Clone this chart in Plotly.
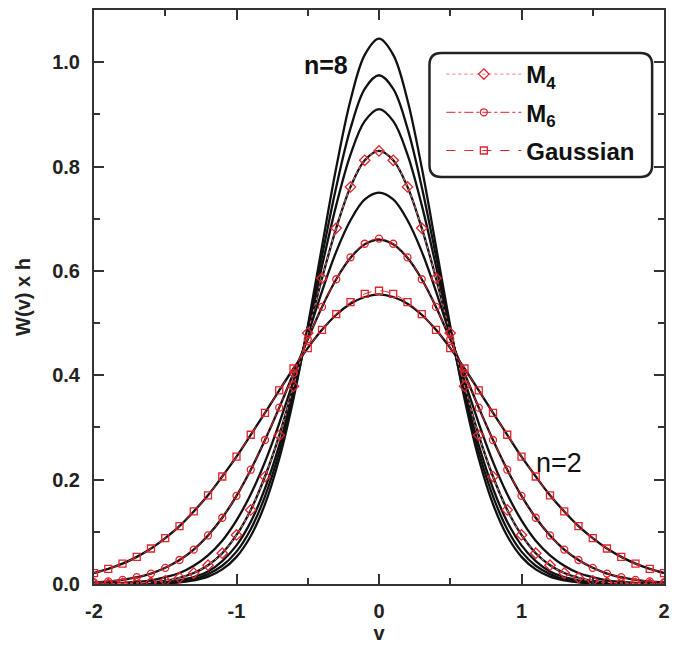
import numpy as np
import plotly.graph_objects as go

# v grid (half, 0..2 step 0.1); curves are symmetric about v=0
v_half = [0.0, 0.1, 0.2, 0.3, 0.4, 0.5, 0.6, 0.7, 0.8, 0.9, 1.0,
          1.1, 1.2, 1.3, 1.4, 1.5, 1.6, 1.7, 1.8, 1.9, 2.0]

# exact W(v) x h, black curves, n = 2..8
w_n2 = [.555, .550, .537, .516, .487, .452, .413, .371, .328, .286, .244, .206, .170, .139, .111, .088, .068, .052, .039, .029, .021]
w_n3 = [.660, .651, .625, .584, .531, .469, .404, .338, .276, .219, .169, .127, .093, .066, .046, .031, .020, .013, .008, .005, .003]
w_n4 = [.750, .737, .697, .637, .561, .476, .390, .308, .234, .172, .122, .083, .055, .035, .021, .013, .007, .004, .002, .001, .001]
w_n5 = [.830, .812, .761, .682, .586, .481, .379, .285, .206, .142, .094, .059, .036, .021, .012, .006, .003, .002, .001, .000, .000]
w_n6 = [.910, .887, .823, .726, .609, .486, .369, .266, .183, .119, .074, .044, .024, .013, .007, .003, .002, .001, .000, .000, .000]
w_n7 = [.975, .949, .873, .761, .628, .490, .362, .253, .168, .105, .062, .035, .019, .009, .004, .002, .001, .000, .000, .000, .000]
w_n8 = [1.045, 1.014, .927, .798, .647, .494, .355, .240, .153, .092, .052, .028, .014, .007, .003, .001, .000, .000, .000, .000, .000]

# approximations (red symbols)
m4_n5 = [.830, .812, .761, .682, .586, .481, .379, .285, .206, .142, .094, .059, .036, .021, .012, .006, .003, .002, .001, .000, .000]
m6_n3 = [.662, .652, .626, .584, .531, .469, .404, .338, .276, .219, .169, .127, .093, .066, .046, .031, .020, .013, .008, .005, .003]
gauss_n2 = [.562, .556, .540, .517, .487, .452, .413, .371, .328, .286, .244, .206, .170, .139, .111, .088, .068, .052, .039, .029, .021]

x_ticks = [-2, -1, 0, 1, 2]
y_ticks = [0.0, 0.2, 0.4, 0.6, 0.8, 1.0]


def full_x(h):
    return [-a for a in h[:0:-1]] + list(h)


def full_y(h):
    return list(h[:0:-1]) + list(h)


V = full_x(v_half)
FONT = "Arial, Liberation Sans, sans-serif"
RED = "#e3222b"
PINK = "#f07a80"

fig = go.Figure()

for w in [w_n2, w_n3, w_n4, w_n5, w_n6, w_n7, w_n8]:
    fig.add_trace(go.Scatter(x=V, y=full_y(w), mode="lines",
                             line=dict(color="#111111", width=2.3, shape="spline"),
                             showlegend=False, hoverinfo="skip"))

fig.add_trace(go.Scatter(x=V, y=full_y(m4_n5), mode="lines+markers", name="<b>M<sub>4</sub></b>",
                         legendgroup="a",
                         line=dict(color=PINK, width=1, dash="dot", shape="spline"),
                         marker=dict(symbol="diamond-open", size=8, color=RED, line=dict(width=1.3))))
fig.add_trace(go.Scatter(x=V, y=full_y(m6_n3), mode="lines+markers", name="<b>M<sub>6</sub></b>",
                         legendgroup="b",
                         line=dict(color=RED, width=1, dash="dashdot", shape="spline"),
                         marker=dict(symbol="circle-open", size=7, color=RED, line=dict(width=1.3))))
fig.add_trace(go.Scatter(x=V, y=full_y(gauss_n2), mode="lines+markers", name="<b>Gaussian</b>",
                         legendgroup="c",
                         line=dict(color=RED, width=1, dash="dash", shape="spline"),
                         marker=dict(symbol="square-open", size=7, color=RED, line=dict(width=1.3))))

# rounded legend box
L, R_, T, B = 433, 658, 53, 177
X0p, X1p, Y0p, Y1p = 94, 670, 10, 584
def px(xp):
    return (xp - X0p) / (X1p - X0p)
def py(yp):
    return (Y1p - yp) / (Y1p - Y0p)
rx = 12 / (X1p - X0p)
ry = 12 / (Y1p - Y0p)
x0, x1, yt, yb = px(L), px(R_), py(T), py(B)
path = (f"M {x0+rx},{yt} L {x1-rx},{yt} Q {x1},{yt} {x1},{yt-ry} "
        f"L {x1},{yb+ry} Q {x1},{yb} {x1-rx},{yb} L {x0+rx},{yb} "
        f"Q {x0},{yb} {x0},{yb+ry} L {x0},{yt-ry} Q {x0},{yt} {x0+rx},{yt} Z")
fig.add_shape(type="path", path=path, xref="paper", yref="paper",
              line=dict(color="#222222", width=2.5), fillcolor="white", layer="above")

fig.add_annotation(x=-0.37, y=0.995, text="<b>n=8</b>", showarrow=False,
                   font=dict(family=FONT, size=25, color="#111111"))
fig.add_annotation(x=1.26, y=0.232, text="n=2", showarrow=False,
                   font=dict(family=FONT, size=27, color="#111111"))

axis_common = dict(showline=True, linewidth=2, linecolor="#333333", mirror="ticks",
                   ticks="inside", ticklen=10, tickwidth=2, tickcolor="#333333",
                   showgrid=False, zeroline=False, ticklabelstandoff=8,
                   tickfont=dict(family=FONT, size=20, color="#222222", weight="bold"))

fig.update_layout(
    width=678, height=651,
    margin=dict(l=94, r=8, t=10, b=67),
    plot_bgcolor="white", paper_bgcolor="white",
    xaxis=dict(range=[-2, 2], tickvals=x_ticks, ticktext=[str(t) for t in x_ticks],
               minor=dict(dtick=0.5, ticks="inside", ticklen=6, tickwidth=1.5, tickcolor="#333333"),
               title=dict(text="<b>v</b>", font=dict(family=FONT, size=20, color="#222222"), standoff=0),
               **axis_common),
    yaxis=dict(range=[0, 1.1], tickvals=y_ticks, tickformat=".1f",
               minor=dict(dtick=0.1, ticks="inside", ticklen=6, tickwidth=1.5, tickcolor="#333333"),
               title=dict(text="<b>W(v) x h</b>", font=dict(family=FONT, size=20, color="#222222"), standoff=16),
               **axis_common),
    legend=dict(x=px(445), y=py(52), xanchor="left", yanchor="top",
                bgcolor="rgba(0,0,0,0)", borderwidth=0, itemwidth=75,
                font=dict(family=FONT, size=24, color="#111111"),
                tracegroupgap=4),
    font=dict(family=FONT),
)

fig.write_html("out.html")
